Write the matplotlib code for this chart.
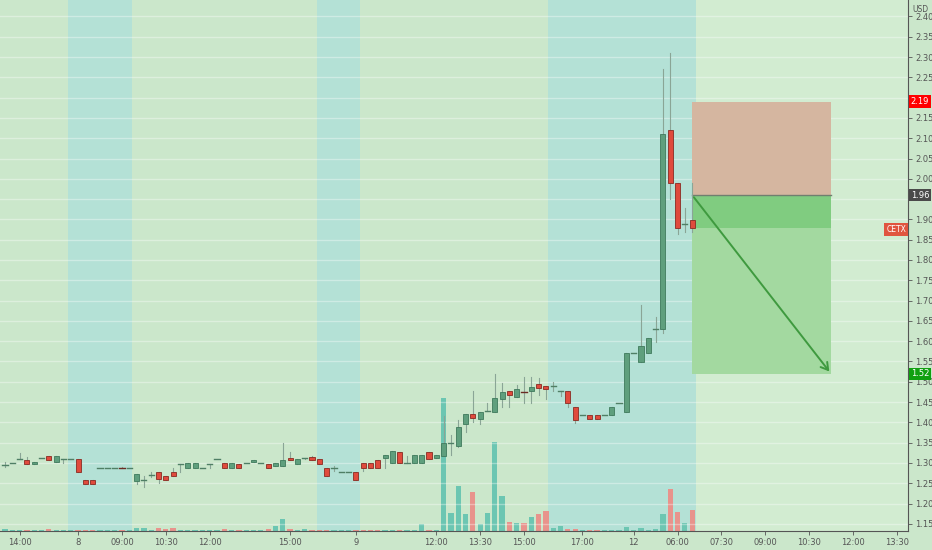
import matplotlib
matplotlib.use("Agg")
import matplotlib.pyplot as plt
from matplotlib.patches import Rectangle

# ---------------- data (15-min candles) ----------------
opens = [1.295, 1.300, 1.310, 1.307, 1.298, 1.312, 1.317, 1.302, 1.310, 1.310,
         1.310, 1.258, 1.258, 1.288, 1.288, 1.288, 1.289, 1.288, 1.256, 1.258,
         1.270, 1.278, 1.268, 1.278, 1.298, 1.288, 1.288, 1.288, 1.298, 1.310,
         1.300, 1.288, 1.298, 1.300, 1.302, 1.300, 1.298, 1.293, 1.293, 1.312,
         1.298, 1.310, 1.315, 1.310, 1.288, 1.288, 1.278, 1.278, 1.278, 1.300,
         1.300, 1.307, 1.312, 1.300, 1.327, 1.300, 1.300, 1.300, 1.327, 1.312,
         1.317, 1.349, 1.342, 1.396, 1.421, 1.408, 1.428, 1.426, 1.458, 1.477,
         1.463, 1.478, 1.477, 1.495, 1.490, 1.490, 1.477, 1.477, 1.438, 1.418,
         1.418, 1.418, 1.418, 1.418, 1.448, 1.426, 1.571, 1.549, 1.571, 1.630,
         1.630, 2.120, 1.990, 1.889, 1.899]
highs = [1.302, 1.300, 1.325, 1.315, 1.302, 1.312, 1.317, 1.317, 1.310, 1.310,
         1.310, 1.258, 1.258, 1.288, 1.288, 1.288, 1.289, 1.288, 1.273, 1.268,
         1.278, 1.278, 1.268, 1.288, 1.298, 1.300, 1.300, 1.288, 1.298, 1.310,
         1.300, 1.300, 1.298, 1.300, 1.307, 1.300, 1.298, 1.300, 1.349, 1.327,
         1.310, 1.312, 1.317, 1.310, 1.288, 1.293, 1.278, 1.278, 1.278, 1.300,
         1.300, 1.307, 1.320, 1.330, 1.327, 1.317, 1.320, 1.320, 1.327, 1.320,
         1.416, 1.369, 1.406, 1.421, 1.478, 1.426, 1.448, 1.519, 1.497, 1.477,
         1.492, 1.512, 1.512, 1.509, 1.490, 1.500, 1.477, 1.477, 1.438, 1.418,
         1.418, 1.418, 1.418, 1.438, 1.448, 1.571, 1.571, 1.689, 1.608, 1.660,
         2.270, 2.310, 1.990, 1.928, 1.990]
lows = [1.290, 1.300, 1.310, 1.298, 1.298, 1.312, 1.307, 1.302, 1.300, 1.310,
        1.278, 1.248, 1.248, 1.288, 1.288, 1.288, 1.287, 1.288, 1.248, 1.241,
        1.266, 1.251, 1.258, 1.268, 1.278, 1.288, 1.288, 1.288, 1.288, 1.310,
        1.288, 1.288, 1.288, 1.300, 1.302, 1.300, 1.288, 1.293, 1.293, 1.307,
        1.298, 1.310, 1.307, 1.298, 1.268, 1.280, 1.278, 1.278, 1.258, 1.280,
        1.288, 1.288, 1.288, 1.300, 1.300, 1.300, 1.300, 1.300, 1.310, 1.312,
        1.317, 1.320, 1.339, 1.376, 1.401, 1.396, 1.428, 1.426, 1.438, 1.438,
        1.463, 1.448, 1.448, 1.467, 1.458, 1.477, 1.465, 1.438, 1.399, 1.418,
        1.408, 1.408, 1.418, 1.418, 1.448, 1.426, 1.571, 1.549, 1.571, 1.598,
        1.620, 1.950, 1.864, 1.869, 1.869]
closes = [1.295, 1.300, 1.310, 1.298, 1.302, 1.312, 1.307, 1.317, 1.310, 1.310,
          1.278, 1.248, 1.248, 1.288, 1.288, 1.288, 1.287, 1.288, 1.273, 1.258,
          1.270, 1.261, 1.258, 1.268, 1.298, 1.300, 1.300, 1.288, 1.298, 1.310,
          1.288, 1.300, 1.288, 1.300, 1.307, 1.300, 1.288, 1.300, 1.307, 1.307,
          1.310, 1.312, 1.307, 1.298, 1.268, 1.288, 1.278, 1.278, 1.258, 1.288,
          1.288, 1.288, 1.320, 1.330, 1.300, 1.300, 1.320, 1.320, 1.310, 1.320,
          1.349, 1.349, 1.389, 1.421, 1.411, 1.426, 1.428, 1.460, 1.475, 1.467,
          1.482, 1.476, 1.487, 1.485, 1.482, 1.490, 1.477, 1.448, 1.406, 1.418,
          1.408, 1.408, 1.418, 1.438, 1.448, 1.571, 1.571, 1.588, 1.608, 1.630,
          2.110, 1.990, 1.879, 1.889, 1.879]
volumes = [20, 10, 10, 10, 10, 10, 20, 10, 10, 10,
           10, 10, 10, 10, 10, 10, 10, 10, 30, 30,
           10, 30, 20, 30, 10, 10, 10, 10, 10, 10,
           20, 10, 10, 10, 10, 10, 20, 50, 120, 20,
           10, 20, 10, 10, 10, 10, 10, 10, 10, 10,
           10, 10, 10, 10, 10, 10, 10, 70, 10, 10,
           1330, 180, 450, 170, 390, 70, 180, 890, 350, 90,
           80, 80, 140, 170, 200, 30, 50, 20, 20, 10,
           10, 10, 10, 10, 10, 40, 10, 30, 10, 20,
           170, 420, 190, 80, 210]

tick_pos = [2, 10, 16, 22, 28, 39, 48, 59, 65, 71, 79, 86, 92, 98, 104, 110, 116, 122]
tick_labels = ["14:00", "8", "09:00", "10:30", "12:00", "15:00", "9", "12:00", "13:30",
               "15:00", "17:00", "12", "06:00", "07:30", "09:00", "10:30", "12:00", "13:30"]

ext_sessions = [(8.6, 17.4), (42.7, 48.6), (74.3, 94.5)]   # extended-hours shading
entry_price, stop_price, target_price, last_price = 1.96, 2.19, 1.52, 1.88
tool_start, tool_end = 94, 113

# ---------------- style ----------------
BG = "#cbe7cb"
BAND = "#b4e1d6"
FUTURE = "#d2ecd1"
UP = "#5f9f7d"
UP_EDGE = "#3f7a5c"
DN = "#e04a3c"
DN_EDGE = "#8a2a22"
VUP = "#6cc6b2"
VDN = "#e8938c"

W, H = 932, 550
fig = plt.figure(figsize=(W / 100, H / 100), dpi=100)
fig.patch.set_facecolor(BG)
rect = [0, 19 / H, 908 / W, 531 / H]

n = len(opens)
xs = list(range(n))

# volume / background axes
axv = fig.add_axes(rect)
axv.set_facecolor(BG)
for a, b in ext_sessions:
    axv.axvspan(a, b, color=BAND, lw=0, zorder=0)
axv.axvspan(94.5, 130, color=FUTURE, lw=0, zorder=0)
vcol = [VUP if c >= o else VDN for o, c in zip(opens, closes)]
axv.bar(xs, volumes, width=0.72, color=vcol, zorder=2)
axv.set_ylim(0, 5310)
axv.set_xlim(-0.684, 123.53)
axv.axis("off")

# price axes
ax = fig.add_axes(rect, sharex=axv)
ax.patch.set_visible(False)
ax.set_ylim(1.1325, 2.4404)
ax.set_xlim(-0.684, 123.53)

yt = [round(1.15 + 0.05 * k, 2) for k in range(26)]
for y in yt:
    ax.axhline(y, color="white", lw=1.0, alpha=0.35, zorder=1)

# position tool
ax.add_patch(Rectangle((tool_start, entry_price), tool_end - tool_start, stop_price - entry_price,
                       facecolor="#d5b6a0", edgecolor="none", zorder=2))
ax.add_patch(Rectangle((tool_start, target_price), tool_end - tool_start, entry_price - target_price,
                       facecolor="#a3d9a0", edgecolor="none", zorder=2))
ax.add_patch(Rectangle((tool_start, last_price), tool_end - tool_start, entry_price - last_price,
                       facecolor="#80cc80", edgecolor="none", zorder=2))
ax.plot([tool_start, tool_end], [entry_price, entry_price], color="#6f7f6f", lw=1.0, zorder=3)
ax.annotate("", xy=(tool_end, target_price), xytext=(tool_start, entry_price),
            arrowprops=dict(arrowstyle="->,head_length=0.5,head_width=0.3",
                            color="#3f9a3f", lw=1.4), zorder=4)

# candles
bw = 0.7
for i in xs:
    o, h, l, c = opens[i], highs[i], lows[i], closes[i]
    up = c >= o
    ax.plot([i, i], [l, h], color="#8aa596", lw=0.8, zorder=5)
    lo, hi = min(o, c), max(o, c)
    if hi - lo < 0.003:
        col = "#4f7f65" if up else "#6a2a22"
        ax.plot([i - bw / 2, i + bw / 2], [c, c], color=col, lw=1.0, zorder=6)
    else:
        ax.add_patch(Rectangle((i - bw / 2, lo), bw, hi - lo,
                               facecolor=UP if up else DN,
                               edgecolor=UP_EDGE if up else DN_EDGE, lw=0.6, zorder=6))

# axes styling
for s in ["left", "top"]:
    ax.spines[s].set_visible(False)
ax.spines["right"].set_color("#555555")
ax.spines["bottom"].set_color("#555555")
ax.yaxis.tick_right()
ax.set_yticks(yt)
hidden = {2.20, 1.95}   # covered by the price boxes in the reference
ax.set_yticklabels(["" if v in hidden else f"{v:.2f}" for v in yt])
ax.tick_params(axis="y", labelsize=6, colors="#555555", length=3, width=0.6, pad=2)
ax.set_xticks(tick_pos)
ax.set_xticklabels(tick_labels)
ax.tick_params(axis="x", labelsize=6, colors="#555555", length=3, width=0.6, pad=2)

# price labels on the scale
yax = ax.get_yaxis_transform()
for val, col in [(stop_price, "#ff0000"), (entry_price, "#4a4a4a"), (target_price, "#11a011")]:
    ax.text(1.003, val, f"{val:.2f}", transform=yax, ha="left", va="center", fontsize=6,
            color="white", zorder=10, clip_on=False,
            bbox=dict(boxstyle="square,pad=0.2", facecolor=col, edgecolor="none"))
ax.text(0.987, 1.876, "CETX", transform=yax, ha="center", va="center", fontsize=5.5,
        color="white", zorder=10,
        bbox=dict(boxstyle="square,pad=0.25", facecolor="#e0553f", edgecolor="none"))
fig.text(920 / W, 1 - 9 / H, "USD", ha="center", va="center", fontsize=5.5, color="#555555")

fig.savefig("out.png", dpi=100, facecolor=fig.get_facecolor())
